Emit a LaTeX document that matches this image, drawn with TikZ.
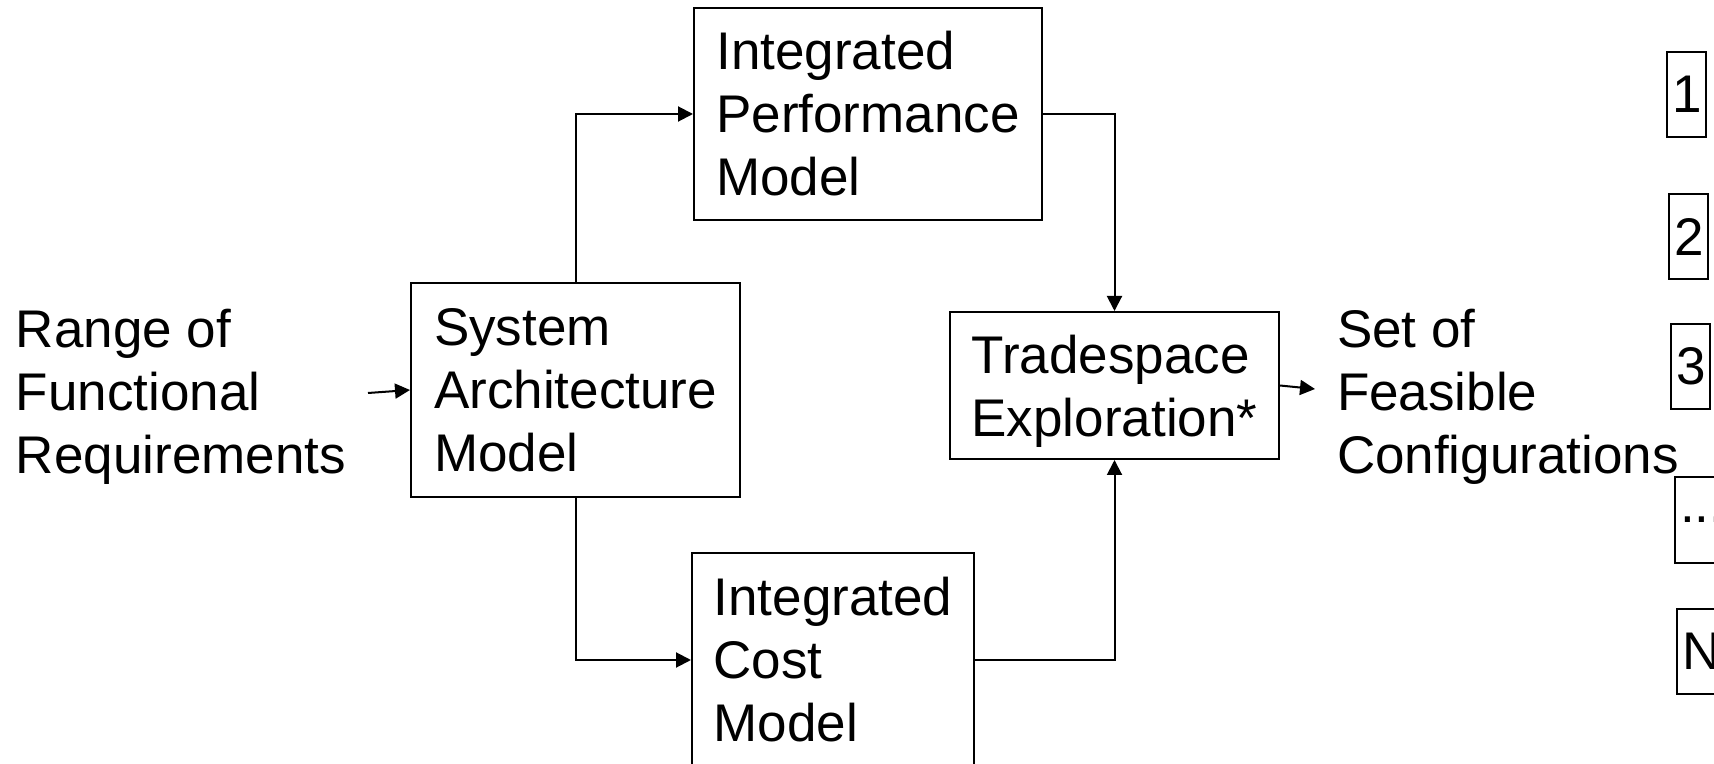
\documentclass[tikz,border=0pt]{standalone}
\usepackage{fontspec}
\setmainfont{Liberation Sans}
\usetikzlibrary{arrows.meta}

\begin{document}
\begin{tikzpicture}[x=0.5pt, y=-0.5pt, line width=1pt,
        txt/.style={font=\fontsize{26.5}{31.5}\selectfont, align=left, inner sep=0pt},
        block/.style={txt, draw=black},
        numbox/.style={txt, draw=black, anchor=west, minimum height=42.5pt, inner xsep=2.5pt},
        arr/.style={-{Triangle[length=7.5pt,width=7.5pt]}}]
        \useasboundingbox (0,0) rectangle (1714,764);
        \clip (0,0) rectangle (1714,764);

        % models
        \node[txt, anchor=west] (reqs) at (15,397) {Range of\\Functional\\Requirements};
        \node[block, minimum width=164.5pt, minimum height=107pt] (sysarch) at (575.5,390) {System\\Architecture\\Model};
        \node[block, minimum width=174pt, minimum height=106pt] (perf) at (868,114) {Integrated\\Performance\\Model};
        \node[block, minimum width=141pt, minimum height=107pt] (cost) at (833,660) {Integrated\\Cost\\Model};
        \node[block, minimum width=164.5pt, minimum height=73.5pt, text depth=0pt] (trade) at (1114.5,385.5) {Tradespace\\Exploration*};
        \node[txt, anchor=west] (feas) at (1336,397) {Set of\\Feasible\\Configurations};

        % configurations
        \node[numbox] (c1) at (1666,94.5) {1};
        \node[numbox] (c2) at (1668,237) {2};
        \node[numbox] (c3) at (1670,366.5) {3};
        \node[numbox] (cdots) at (1674,520) {...};
        \node[numbox] (cn) at (1676,651) {N};

        \coordinate (in) at (368,393);
        \coordinate (out) at (1315,389);
        \draw[arr] (in) -- (sysarch.west);
        \draw[arr] (sysarch.north) |- (perf.west);
        \draw[arr] (sysarch.south) |- (cost.west);
        \draw[arr] (perf.east) -| (trade.north);
        \draw[arr] (cost.east) -| (trade.south);
        \draw[arr] (trade.east) -- (out);
\end{tikzpicture}
\end{document}
